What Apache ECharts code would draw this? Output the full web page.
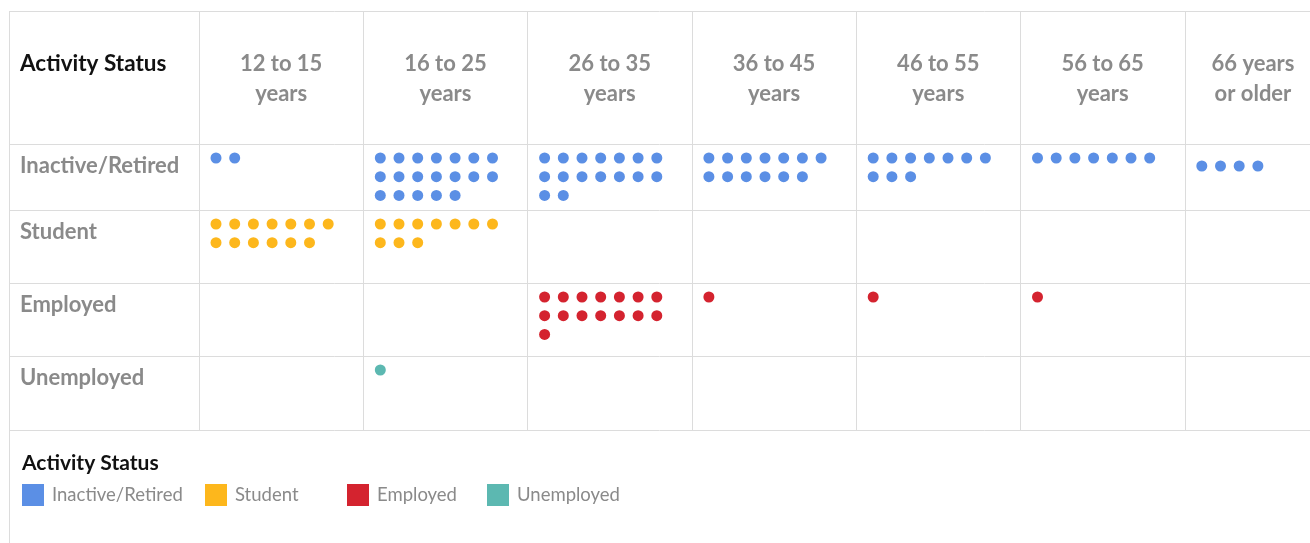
<!DOCTYPE html>
<html>
<head>
<meta charset="utf-8">
<script src="https://cdn.jsdelivr.net/npm/echarts@6/dist/echarts.min.js"></script>
<style>
  html, body { margin: 0; padding: 0; background: #fff; }
  #chart { width: 1310px; height: 543px; }
</style>
</head>
<body>
<div id="chart"></div>
<script>
// data
const ageGroups = ['12 to 15\nyears', '16 to 25\nyears', '26 to 35\nyears', '36 to 45\nyears',
  '46 to 55\nyears', '56 to 65\nyears', '66 years\nor older']
const statuses = ['Inactive/Retired', 'Student', 'Employed', 'Unemployed']
const inactive = [2, 19, 16, 13, 10, 7, 4]
const student = [13, 10, 0, 0, 0, 0, 0]
const employed = [0, 0, 15, 1, 1, 1, 0]
const unemployed = [0, 1, 0, 0, 0, 0, 0]
const counts = [inactive, student, employed, unemployed]
const colors = ['#5b8fe5', '#fdb71c', '#d4232f', '#5cb8b1']

// table layout (pixels)
const tableLeft = 9
const colStart = 199
const colW = 164.3
const tableTop = 11
const rowLines = [144, 210, 283, 356, 430]
const perRow = 7
const step = 18.7
const font = 'Lato, "Noto Sans", sans-serif'
const grey = '#8a8a8a'
const lineColor = '#dcdcdc'

const chart = echarts.init(document.getElementById('chart'))

// one dot per person, wrapped in rows of 7 inside each cell
function dots (s) {
  const out = []
  counts[s].forEach((n, c) => {
    for (let k = 0; k < n; k++) {
      const x = c * colW + 17 + (k % perRow) * step
      let y = rowLines[s] - tableTop + 14 + Math.floor(k / perRow) * step
      if (c === 6) y += 8 // last column sits a bit lower in the original
      out.push([x, y])
    }
  })
  return out
}

const graphics = []
// horizontal rules
rowLines.concat([tableTop]).forEach(y => {
  graphics.push({
    type: 'line',
    shape: { x1: tableLeft, y1: y + 0.5, x2: 1310, y2: y + 0.5 },
    style: { stroke: lineColor, lineWidth: 1 },
    silent: true
  })
})
// left border runs down past the legend
graphics.push({
  type: 'line',
  shape: { x1: tableLeft + 0.5, y1: tableTop, x2: tableLeft + 0.5, y2: 543 },
  style: { stroke: lineColor, lineWidth: 1 },
  silent: true
})
graphics.push({
  type: 'text',
  left: 20,
  top: 52,
  style: { text: 'Activity Status', fill: '#111', font: 'bold 22.5px ' + font }
})
statuses.forEach((s, i) => {
  graphics.push({
    type: 'text',
    left: 20,
    top: rowLines[i] + 11,
    style: { text: s, fill: grey, font: 'bold 22px ' + font }
  })
})

const legendLeft = [22, 205, 347, 487]

const headerLabel = {
  verticalAlign: 'middle',
  color: grey,
  fontSize: 22,
  fontWeight: 'bold',
  lineHeight: 30,
  fontFamily: font
}
// the last header is cut by the page edge, so it is centred on the visible part
const headerData = ageGroups.map((g, i) => i === ageGroups.length - 1
  ? { value: g, textStyle: Object.assign({}, headerLabel, { padding: [0, 28, 0, 0] }) }
  : g)

chart.setOption({
  animation: false,
  title: {
    text: 'Activity Status',
    left: 17,
    top: 448,
    textStyle: { fontSize: 21, fontWeight: 'bold', color: '#111', fontFamily: font }
  },
  legend: statuses.map((s, i) => ({
    data: [s],
    left: legendLeft[i],
    top: 484,
    padding: 0,
    icon: 'rect',
    itemWidth: 22,
    itemHeight: 22,
    selectedMode: false,
    textStyle: { fontSize: 18.5, color: grey, fontFamily: font, padding: [0, 0, 0, 3] }
  })),
  grid: {
    left: colStart,
    top: tableTop,
    width: colW * 7,
    height: rowLines[4] - tableTop,
    outerBoundsMode: 'none'
  },
  xAxis: [
    {
      type: 'category',
      data: headerData,
      position: 'top',
      boundaryGap: true,
      axisLine: { show: false },
      axisTick: { show: false },
      splitLine: { show: true, lineStyle: { color: lineColor, width: 1 } },
      axisLabel: Object.assign({ inside: true, interval: 0, margin: 68 }, headerLabel)
    },
    { type: 'value', min: 0, max: colW * 7, show: false }
  ],
  yAxis: { type: 'value', inverse: true, min: 0, max: rowLines[4] - tableTop, show: false },
  series: statuses.map((s, i) => ({
    name: s,
    type: 'scatter',
    xAxisIndex: 1,
    symbol: 'circle',
    symbolSize: 11,
    itemStyle: { color: colors[i], opacity: 1 },
    data: dots(i)
  })),
  graphic: graphics
})
</script>
</body>
</html>
